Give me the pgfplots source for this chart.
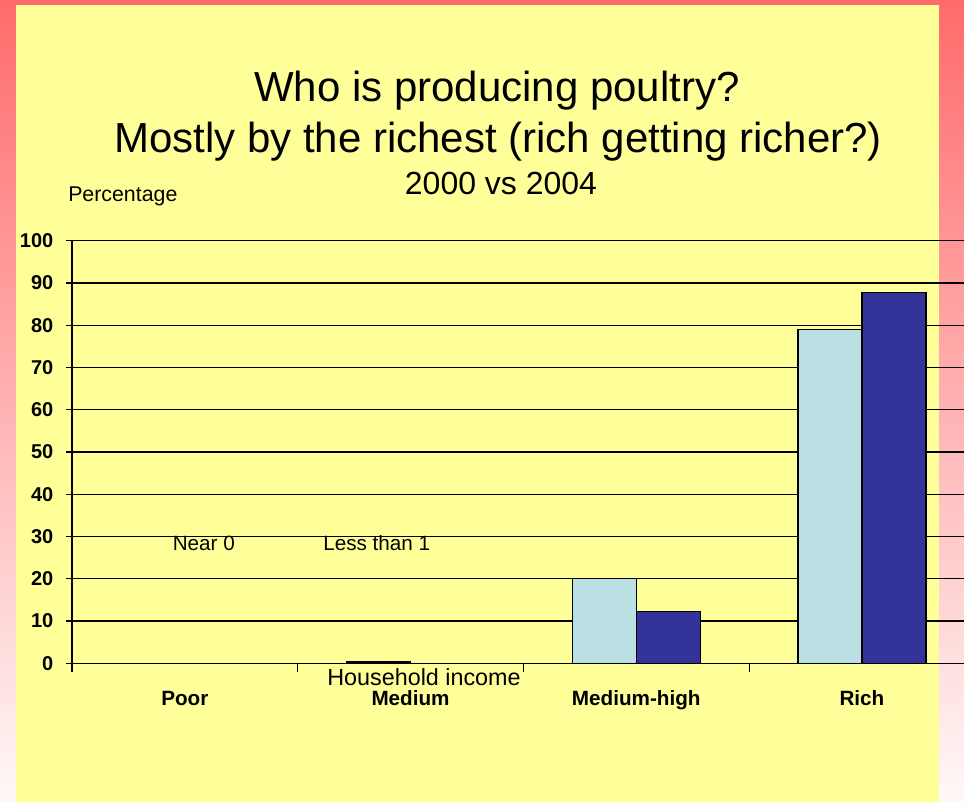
\documentclass[border=0pt]{standalone}
\usepackage{pgfplots}
\pgfplotsset{compat=1.18}
\usepackage{fontspec}
\setmainfont{Liberation Sans}
\definecolor{bgyellow}{HTML}{FFFF99}
\definecolor{lightbar}{HTML}{BBE0E3}
\definecolor{darkbar}{HTML}{333399}
\definecolor{pinktop}{HTML}{FF6B6B}
\definecolor{pinkbot}{HTML}{FFF8F8}
\begin{document}
\begin{tikzpicture}[x=0.75pt,y=0.75pt]
\useasboundingbox (0,0) rectangle (964,802);
\clip (0,0) rectangle (964,802);
\shade[top color=pinktop, bottom color=pinkbot] (0,0) rectangle (964,802);
\fill[bgyellow] (16,0) rectangle (939,797);
\coordinate (O) at (72,138.7);
\begin{axis}[
  at={(O)}, anchor=south west,
  scale only axis, width=677.1pt, height=316.9pt,
  ybar=0pt, bar width=48pt,
  xmin=-0.5, xmax=3.5, ymin=0, ymax=100,
  axis lines=left, axis line style={-, black, line width=0.9pt},
  ytick={0,10,...,100},
  ymajorgrids, grid style={black, line width=0.9pt},
  tick align=outside,
  tick style={black, line width=0.9pt},
  major tick length=4.5pt,
  xtick={0,1,2,3},
  xticklabels={Poor,Medium,Medium-high,Rich},
  x tick style={draw=none},
  extra x ticks={-0.5,0.5,1.5,2.5},
  extra x tick labels={},
  extra x tick style={x tick style={draw=black}, major tick length=6.75pt, grid=none},
  /pgf/number format/assume math mode=true,
  yticklabel style={font=\fontsize{15}{15}\selectfont\bfseries, anchor=east, xshift=-6pt},
  xticklabel style={font=\fontsize{15.5}{15.5}\selectfont\bfseries, anchor=base, yshift=-27.5pt},
  clip=false,
]
\addplot[fill=lightbar, draw=black, line width=0.9pt] coordinates {(1,0.3) (2,20) (3,79)};
\addplot[fill=darkbar, draw=black, line width=0.9pt] coordinates {(2,12.3) (3,87.8)};
\end{axis}
\node[anchor=base, font=\fontsize{31.5}{37}\selectfont] at (497,700) {Who is producing poultry?};
\node[anchor=base, font=\fontsize{31.5}{37}\selectfont] at (498,649) {Mostly by the richest (rich getting richer?)};
\node[anchor=base, font=\fontsize{24}{28}\selectfont] at (501,607.7) {2000 vs 2004};
\node[anchor=base west, inner sep=0pt, font=\fontsize{16}{19}\selectfont] at (68,600) {Percentage};
\node[anchor=base west, inner sep=0pt, font=\fontsize{15.5}{18}\selectfont] at (172.5,251) {Near 0};
\node[anchor=base west, inner sep=0pt, font=\fontsize{15.5}{18}\selectfont] at (323,251) {Less than 1};
\node[anchor=base, inner sep=0pt, font=\fontsize{17.5}{20}\selectfont] at (424,116.3) {Household income};
\end{tikzpicture}
\end{document}
